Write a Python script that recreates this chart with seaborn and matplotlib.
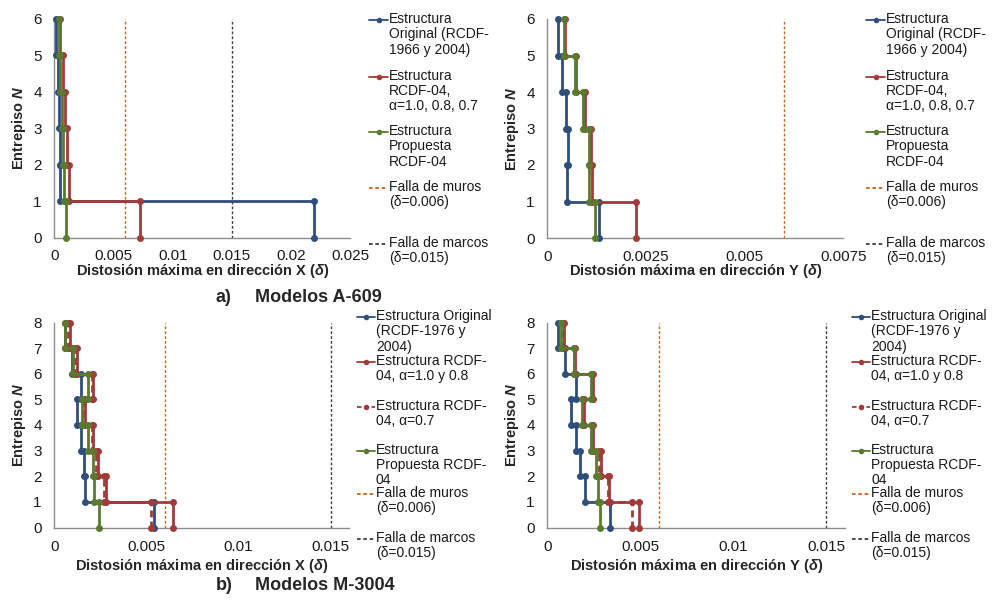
import matplotlib
matplotlib.use('Agg')
import matplotlib.pyplot as plt
from matplotlib.lines import Line2D
from matplotlib.ticker import FuncFormatter, MultipleLocator
import seaborn as sns
import pandas as pd

# Distorsion maxima por entrepiso (entrepiso 1 = planta baja)
pisos_a = [1, 2, 3, 4, 5, 6]
a609_x_original = [0.0219, 0.0005, 0.00045, 0.0004, 0.00033, 0.00016]
a609_x_rcdf04 = [0.00723, 0.00127, 0.0011, 0.00093, 0.0007, 0.0005]
a609_x_propuesta = [0.00098, 0.00084, 0.00076, 0.00062, 0.00048, 0.00037]
a609_y_original = [0.00131, 0.0005, 0.00053, 0.00047, 0.00037, 0.00028]
a609_y_rcdf04 = [0.00225, 0.00114, 0.0011, 0.00095, 0.00073, 0.00046]
a609_y_propuesta = [0.0012, 0.00106, 0.00106, 0.00091, 0.0007, 0.00043]

pisos_b = [1, 2, 3, 4, 5, 6, 7, 8]
m3004_x_original = [0.0054, 0.00168, 0.00163, 0.00145, 0.00121, 0.00145, 0.00094, 0.0006]
m3004_x_rcdf04 = [0.00645, 0.0028, 0.00235, 0.00212, 0.00168, 0.00212, 0.00121, 0.00085]
m3004_x_rcdf04_07 = [0.00522, 0.0027, 0.00224, 0.00205, 0.0016, 0.00203, 0.0011, 0.00076]
m3004_x_propuesta = [0.00241, 0.00215, 0.00208, 0.00184, 0.00148, 0.00184, 0.00103, 0.00059]
m3004_y_original = [0.00335, 0.00204, 0.00174, 0.00153, 0.00126, 0.00153, 0.00097, 0.00057]
m3004_y_rcdf04 = [0.00494, 0.00332, 0.00287, 0.00246, 0.00197, 0.00246, 0.0015, 0.0009]
m3004_y_rcdf04_07 = [0.00457, 0.00326, 0.00278, 0.0024, 0.0019, 0.0024, 0.00145, 0.00083]
m3004_y_propuesta = [0.00285, 0.00272, 0.00263, 0.00233, 0.00188, 0.00233, 0.00143, 0.00072]

falla_muros = 0.006
falla_marcos = 0.015

leyenda_a = ['Estructura\nOriginal (RCDF-\n1966 y 2004)',
             'Estructura\nRCDF-04,\nα=1.0, 0.8, 0.7',
             'Estructura\nPropuesta\nRCDF-04',
             'Falla de muros\n(δ=0.006)',
             'Falla de marcos\n(δ=0.015)']
leyenda_b = ['Estructura Original\n(RCDF-1976 y\n2004)',
             'Estructura RCDF-\n04, α=1.0 y 0.8',
             'Estructura RCDF-\n04, α=0.7',
             'Estructura\nPropuesta RCDF-\n04',
             'Falla de muros\n(δ=0.006)',
             'Falla de marcos\n(δ=0.015)']

AZUL = '#2F4E7C'
ROJO = '#A23A3A'
VERDE = '#5A7A30'
NARANJA = '#C4661F'
GRIS = '#3F3F3F'

W, H = 992, 602

sns.set_style('white')
plt.rcParams['font.family'] = ['Liberation Sans', 'DejaVu Sans']
plt.rcParams['mathtext.fontset'] = 'custom'
plt.rcParams['mathtext.it'] = 'Liberation Sans:italic:bold'
plt.rcParams['mathtext.rm'] = 'Liberation Sans'
plt.rcParams['mathtext.bf'] = 'Liberation Sans:bold'

fig = plt.figure(figsize=(W / 100, H / 100), dpi=100)

linea = '-'
punteada = (0, (2, 1.5))
disc = (0, (2.5, 1.5))


def perfil(pisos, derivas):
    """Step profile: each storey drawn as a vertical segment at its drift."""
    xs, ys = [], []
    for p, d in zip(pisos, derivas):
        xs += [d, d]
        ys += [p - 1, p]
    return pd.DataFrame({'x': xs, 'y': ys})


def panel(rect, pisos, series, xmax, xstep, direccion, tpad, xpad):
    ax = fig.add_axes(rect)
    for derivas, color, ls in series:
        sns.lineplot(data=perfil(pisos, derivas), x='x', y='y', ax=ax,
                     sort=False, estimator=None, color=color, linestyle=ls,
                     linewidth=2, marker='o', markersize=5,
                     markeredgewidth=0, legend=False, clip_on=False, zorder=3)
    for lim, color in [(falla_muros, NARANJA), (falla_marcos, GRIS)]:
        if lim <= xmax:
            ax.axvline(lim, color=color, linestyle=punteada, linewidth=1)
    ax.set_xlim(0, xmax)
    ax.set_ylim(0, max(pisos))
    ax.xaxis.set_major_locator(MultipleLocator(xstep))
    ax.yaxis.set_major_locator(MultipleLocator(1))
    ax.xaxis.set_major_formatter(FuncFormatter(lambda v, p: f'{v:g}'))
    ax.tick_params(length=0, labelsize=11, colors='#1a1a1a')
    ax.tick_params(axis='x', pad=tpad)
    ax.tick_params(axis='y', pad=9)
    for s in ['top', 'right']:
        ax.spines[s].set_visible(False)
    for s in ['left', 'bottom']:
        ax.spines[s].set_color('#8c8c8c')
        ax.spines[s].set_linewidth(1)
    ax.set_xlabel(f'Distosión máxima en dirección {direccion} ($\\delta$)',
                  fontsize=10.5, fontweight='bold', labelpad=xpad)
    ax.set_ylabel('Entrepiso $N$', fontsize=10.5, fontweight='bold', labelpad=4)
    return ax


def leyenda(x_handle, x_text, ys, labels, estilos):
    for y, lab, (color, ls, marcador) in zip(ys, labels, estilos):
        fy = 1 - y / H
        fig.add_artist(Line2D([x_handle / W, (x_text - 1) / W], [fy, fy],
                              transform=fig.transFigure, color=color,
                              linestyle=ls, linewidth=1.3))
        if marcador:
            fig.add_artist(Line2D([(x_handle + x_text - 1) / 2 / W], [fy],
                                  transform=fig.transFigure, color=color,
                                  marker='o', markersize=4, markeredgewidth=0))
        fig.text(x_text / W, 1 - (y - 8) / H, lab, ha='left', va='top',
                 fontsize=10, linespacing=1.12, color='#1a1a1a')


panel([54.3 / W, 1 - 237.5 / H, 296 / W, 218.5 / H], pisos_a,
      [(a609_x_original, AZUL, linea), (a609_x_rcdf04, ROJO, linea),
       (a609_x_propuesta, VERDE, linea)], 0.025, 0.005, 'X', 8.5, -1)
panel([547.3 / W, 1 - 238 / H, 296.2 / W, 219 / H], pisos_a,
      [(a609_y_original, AZUL, linea), (a609_y_rcdf04, ROJO, linea),
       (a609_y_propuesta, VERDE, linea)], 0.0075, 0.0025, 'Y', 8.5, -1)
panel([54.3 / W, 1 - 527.5 / H, 295 / W, 205 / H], pisos_b,
      [(m3004_x_original, AZUL, linea), (m3004_x_rcdf04, ROJO, linea),
       (m3004_x_rcdf04_07, ROJO, disc), (m3004_x_propuesta, VERDE, linea)],
      0.016, 0.005, 'X', 9, 2.5)
panel([547.3 / W, 1 - 527.5 / H, 297.7 / W, 205 / H], pisos_b,
      [(m3004_y_original, AZUL, linea), (m3004_y_rcdf04, ROJO, linea),
       (m3004_y_rcdf04_07, ROJO, disc), (m3004_y_propuesta, VERDE, linea)],
      0.016, 0.005, 'Y', 9, 2.5)

estilos_a = [(AZUL, linea, True), (ROJO, linea, True), (VERDE, linea, True),
             (NARANJA, punteada, False), (GRIS, punteada, False)]
estilos_b = [(AZUL, linea, True), (ROJO, linea, True), (ROJO, disc, True),
             (VERDE, linea, True), (NARANJA, punteada, False), (GRIS, punteada, False)]

ys_a = [20, 76.7, 132, 188, 244]
ys_b = [317, 362, 406.5, 450.7, 494, 538.5]
leyenda(369, 389, ys_a, leyenda_a, estilos_a)
leyenda(866, 886, ys_a, leyenda_a, estilos_a)
leyenda(357, 376, ys_b, leyenda_b, estilos_b)
leyenda(852, 871, ys_b, leyenda_b, estilos_b)

fig.text(216 / W, 1 - 298 / H, 'a)', fontsize=13, fontweight='bold', va='center')
fig.text(255 / W, 1 - 298 / H, 'Modelos A-609', fontsize=13, fontweight='bold', va='center')
fig.text(216 / W, 1 - 585 / H, 'b)', fontsize=13, fontweight='bold', va='center')
fig.text(255 / W, 1 - 585 / H, 'Modelos M-3004', fontsize=13, fontweight='bold', va='center')

fig.savefig('out.png', dpi=100, facecolor='white')
plt.close(fig)
